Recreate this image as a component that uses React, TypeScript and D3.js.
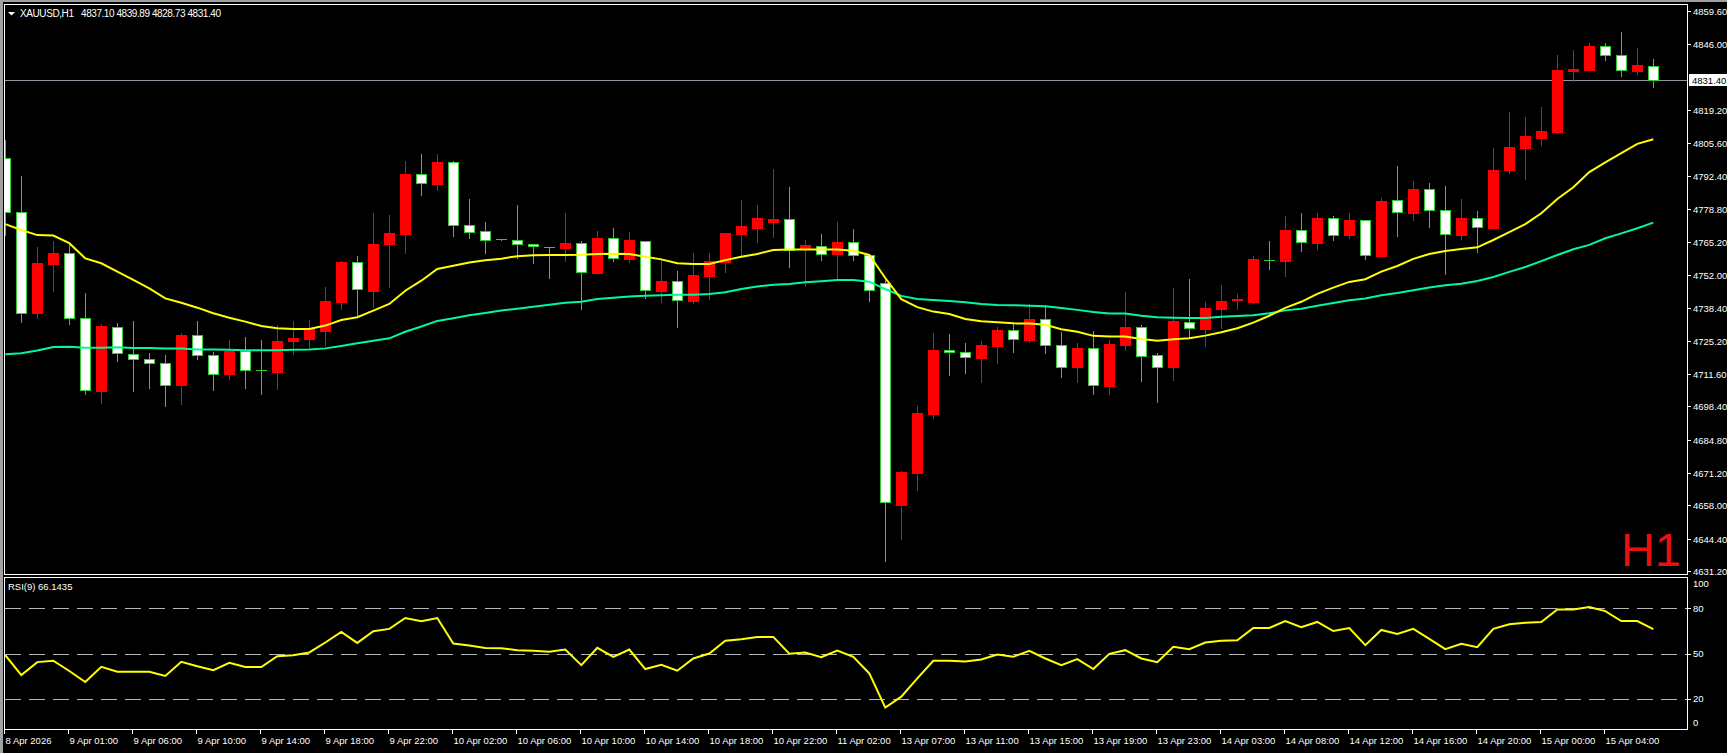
import { useEffect, useRef } from 'react';
import * as d3 from 'd3';

// XAUUSD H1, 104 bars (8 Apr 20:00 .. 15 Apr 07:00)
const openP = [
  4799.5, 4777.5, 4736.3, 4756.6, 4760.8, 4734.3, 4704.8, 4730.9, 4719.6, 4717.6,
  4715.9, 4707.1, 4727.3, 4719.2, 4711.7, 4720.9, 4713.2, 4712.5, 4725.1, 4725.8,
  4729.2, 4741.1, 4757.1, 4745.5, 4764.7, 4768.8, 4793.1, 4789.2, 4797.9, 4772.2,
  4769.8, 4766.5, 4766.1, 4764.5, 4763.5, 4763.1, 4764.9, 4752.8, 4766.9, 4758.6,
  4765.7, 4745.5, 4749.4, 4741.5, 4751.7, 4757.1, 4768.8, 4771.2, 4773.7, 4774.7,
  4762.7, 4763.9, 4760.6, 4765.3, 4760.0, 4748.7, 4658.1, 4671.3, 4695.4, 4721.2,
  4720.4, 4718.2, 4723.1, 4729.4, 4725.6, 4733.9, 4723.3, 4714.5, 4722.0, 4706.8,
  4723.5, 4730.6, 4719.2, 4714.5, 4732.9, 4730.0, 4738.2, 4741.7, 4741.1, 4757.9,
  4757.8, 4770.2, 4765.1, 4775.1, 4768.1, 4774.2, 4759.8, 4782.4, 4777.3, 4786.9,
  4778.3, 4768.4, 4775.1, 4771.2, 4794.9, 4803.9, 4807.9, 4810.3, 4835.3, 4835.7,
  4845.2, 4841.5, 4835.3, 4837.1,
];
const highP = [
  4807.0, 4792.3, 4763.4, 4765.8, 4764.2, 4744.5, 4732.0, 4732.2, 4733.2, 4720.0,
  4719.2, 4728.2, 4733.2, 4720.4, 4725.4, 4726.7, 4725.4, 4731.6, 4733.2, 4733.6,
  4747.2, 4757.7, 4759.7, 4777.2, 4776.4, 4798.4, 4801.3, 4801.3, 4798.4, 4782.9,
  4773.6, 4766.6, 4780.5, 4764.5, 4763.5, 4777.2, 4765.8, 4769.9, 4771.1, 4769.5,
  4765.7, 4758.1, 4753.6, 4760.9, 4760.9, 4769.2, 4782.7, 4780.5, 4795.2, 4787.8,
  4766.2, 4768.7, 4773.6, 4770.7, 4760.0, 4750.3, 4672.0, 4698.5, 4728.3, 4727.9,
  4724.2, 4725.0, 4730.6, 4732.8, 4740.1, 4738.8, 4728.7, 4724.2, 4729.0, 4725.3,
  4745.0, 4731.6, 4720.0, 4746.6, 4750.3, 4740.9, 4747.9, 4744.2, 4759.7, 4765.8,
  4776.0, 4777.2, 4777.2, 4776.0, 4777.2, 4774.2, 4783.3, 4796.4, 4790.3, 4789.5,
  4788.2, 4782.9, 4778.0, 4803.9, 4818.5, 4816.4, 4820.5, 4841.8, 4843.8, 4846.6,
  4846.6, 4851.0, 4844.5, 4839.89,
];
const lowP = [
  4768.3, 4732.7, 4734.5, 4745.5, 4731.8, 4703.4, 4699.9, 4717.0, 4704.8, 4705.7,
  4698.6, 4699.3, 4717.6, 4705.0, 4709.6, 4706.0, 4703.4, 4705.6, 4719.7, 4722.7,
  4723.4, 4738.2, 4734.9, 4739.0, 4747.2, 4761.0, 4784.7, 4786.6, 4768.0, 4767.2,
  4761.0, 4766.4, 4758.8, 4757.0, 4750.8, 4757.8, 4738.1, 4752.7, 4757.8, 4757.4,
  4742.7, 4741.1, 4730.9, 4740.6, 4742.3, 4753.3, 4759.4, 4765.5, 4767.6, 4755.3,
  4747.6, 4758.2, 4750.8, 4758.2, 4741.5, 4635.4, 4644.3, 4664.3, 4693.7, 4711.3,
  4712.1, 4708.4, 4716.2, 4720.7, 4724.7, 4720.3, 4710.5, 4708.4, 4703.5, 4703.5,
  4721.4, 4708.7, 4700.3, 4709.1, 4726.8, 4723.1, 4730.4, 4738.2, 4740.6, 4754.5,
  4751.7, 4761.9, 4762.4, 4766.1, 4767.2, 4758.3, 4759.8, 4768.0, 4774.5, 4771.6,
  4752.5, 4766.7, 4761.3, 4771.2, 4793.4, 4791.2, 4805.1, 4809.7, 4831.2, 4835.7,
  4839.7, 4833.2, 4834.0, 4828.73,
];
const closeP = [
  4777.5, 4736.3, 4756.7, 4760.8, 4734.3, 4705.0, 4731.1, 4720.0, 4717.6, 4715.9,
  4707.0, 4727.5, 4719.2, 4711.4, 4720.9, 4713.1, 4713.2, 4725.0, 4726.2, 4729.9,
  4741.3, 4757.2, 4746.1, 4764.6, 4769.1, 4793.1, 4789.3, 4798.0, 4772.2, 4769.4,
  4766.2, 4766.5, 4764.5, 4763.6, 4763.5, 4765.0, 4753.0, 4767.0, 4758.8, 4766.2,
  4745.7, 4749.4, 4741.6, 4751.9, 4757.5, 4769.1, 4771.9, 4775.2, 4774.8, 4762.1,
  4764.1, 4760.4, 4765.4, 4760.0, 4745.7, 4659.2, 4671.6, 4695.7, 4721.4, 4720.4,
  4718.4, 4723.3, 4729.5, 4725.7, 4734.0, 4723.3, 4714.5, 4722.2, 4707.0, 4723.8,
  4730.7, 4719.0, 4714.5, 4733.2, 4730.2, 4738.5, 4741.3, 4742.0, 4758.5, 4757.9,
  4770.3, 4765.3, 4775.2, 4768.1, 4774.4, 4760.0, 4782.1, 4777.5, 4787.0, 4778.3,
  4768.5, 4775.2, 4771.4, 4794.8, 4804.1, 4808.6, 4810.7, 4835.5, 4836.0, 4845.3,
  4841.5, 4835.4, 4837.6, 4831.4,
];

// moving averages as drawn on the chart
const maFast = [
  4772.7, 4770.3, 4768.2, 4768.0, 4764.9, 4758.7, 4756.7, 4753.3, 4749.9, 4746.5,
  4742.4, 4740.6, 4738.6, 4736.3, 4734.5, 4732.9, 4731.1, 4730.2, 4729.9, 4729.9,
  4731.3, 4733.6, 4734.7, 4737.4, 4740.1, 4745.5, 4749.6, 4754.4, 4755.7, 4757.0,
  4757.9, 4758.6, 4759.6, 4760.0, 4760.1, 4760.1, 4760.2, 4760.5, 4760.6, 4760.5,
  4759.4, 4758.3, 4756.7, 4756.4, 4756.4, 4758.0, 4759.4, 4760.5, 4762.1, 4762.3,
  4762.3, 4762.3, 4762.3, 4761.8, 4760.1, 4750.7, 4742.1, 4738.8, 4737.0, 4736.0,
  4734.0, 4733.1, 4732.7, 4732.2, 4732.1, 4731.6, 4729.8, 4728.8, 4727.1, 4726.8,
  4726.8, 4725.8, 4725.1, 4725.7, 4726.1, 4727.2, 4728.6, 4730.2, 4732.5, 4735.3,
  4738.5, 4741.0, 4744.2, 4746.8, 4749.1, 4750.2, 4753.3, 4755.6, 4758.5, 4760.5,
  4761.7, 4762.5, 4763.2, 4766.2, 4769.4, 4772.7, 4777.1, 4782.9, 4787.7, 4793.9,
  4797.9, 4801.6, 4805.4, 4807.3,
];
const maSlow = [
  4719.6, 4720.0, 4721.1, 4722.6, 4722.7, 4722.3, 4722.3, 4722.5, 4722.2, 4722.2,
  4721.9, 4721.9, 4721.5, 4721.5, 4721.4, 4721.2, 4721.2, 4721.2, 4721.4, 4721.5,
  4722.0, 4723.0, 4724.1, 4725.1, 4726.1, 4728.8, 4730.9, 4733.2, 4734.3, 4735.5,
  4736.4, 4737.4, 4738.2, 4739.0, 4739.8, 4740.6, 4741.0, 4742.1, 4742.6, 4743.2,
  4743.5, 4743.7, 4743.9, 4743.9, 4744.2, 4744.9, 4746.2, 4747.2, 4747.9, 4748.3,
  4749.0, 4749.4, 4749.9, 4749.9, 4749.2, 4746.2, 4743.4, 4742.1, 4741.7, 4741.3,
  4740.8, 4740.1, 4739.7, 4739.6, 4739.4, 4739.2, 4738.5, 4737.7, 4736.8, 4736.2,
  4736.2, 4735.3, 4734.7, 4734.5, 4734.4, 4734.4, 4734.9, 4735.2, 4735.5, 4736.3,
  4737.5, 4738.2, 4739.4, 4740.5, 4741.6, 4742.3, 4743.7, 4744.6, 4745.7, 4746.8,
  4747.7, 4748.4, 4749.5, 4751.1, 4753.2, 4755.2, 4757.6, 4760.1, 4762.4, 4764.2,
  4766.9, 4768.9, 4771.0, 4773.3,
];

const rsi = [
  48.9, 35.7, 44.3, 45.2, 38.4, 31.1, 41.2, 37.9, 37.9, 37.9,
  35.1, 44.5, 41.6, 39.0, 43.8, 41.0, 41.0, 48.2, 48.9, 50.7,
  57.3, 64.3, 57.0, 64.7, 66.3, 73.5, 71.3, 73.5, 56.6, 55.3,
  53.7, 53.5, 52.2, 51.8, 51.1, 52.6, 42.3, 53.8, 47.8, 52.6,
  39.7, 42.5, 38.6, 46.7, 50.0, 58.4, 59.5, 61.0, 61.0, 49.8,
  50.7, 47.6, 52.0, 47.8, 36.8, 14.2, 21.4, 33.5, 45.2, 45.2,
  44.7, 46.0, 49.3, 47.8, 51.8, 46.7, 42.3, 46.3, 39.7, 49.8,
  52.2, 46.7, 44.3, 54.4, 52.9, 57.3, 58.4, 58.8, 66.9, 66.9,
  71.5, 67.4, 70.9, 64.9, 66.9, 55.5, 65.6, 63.0, 66.3, 59.7,
  52.9, 56.4, 54.2, 66.3, 69.3, 70.4, 70.9, 79.2, 79.2, 80.8,
  78.1, 71.5, 71.5, 66.1,
];

const timeLabels = [
  '8 Apr 2026', '9 Apr 01:00', '9 Apr 06:00', '9 Apr 10:00', '9 Apr 14:00',
  '9 Apr 18:00', '9 Apr 22:00', '10 Apr 02:00', '10 Apr 06:00', '10 Apr 10:00',
  '10 Apr 14:00', '10 Apr 18:00', '10 Apr 22:00', '11 Apr 02:00', '13 Apr 07:00',
  '13 Apr 11:00', '13 Apr 15:00', '13 Apr 19:00', '13 Apr 23:00', '14 Apr 03:00',
  '14 Apr 08:00', '14 Apr 12:00', '14 Apr 16:00', '14 Apr 20:00', '15 Apr 00:00',
  '15 Apr 04:00',
];
const labelEvery = 4; // one time label per 4 bars

const priceTicks = [
  4859.6, 4846.0, 4819.2, 4805.6, 4792.4, 4778.8, 4765.2, 4752.0, 4738.4,
  4725.2, 4711.6, 4698.4, 4684.8, 4671.2, 4658.0, 4644.4, 4631.2,
];
const rsiLevels = [80, 50, 20];
const rsiAxisLabels = [100, 80, 50, 20, 0];

const lastPrice = 4831.4;
const headerText = '4837.10 4839.89 4828.73 4831.40';
const rsiHeader = 'RSI(9) 66.1435';

const W = 1727;
const H = 753;
const FONT = "Tahoma, 'Liberation Sans', Arial, sans-serif";
const BULL = '#ff0000';
const BEAR_EDGE = '#32cd32';

export default function App() {
  const svgRef = useRef<SVGSVGElement>(null);

  useEffect(() => {
    document.body.style.margin = '0';
    document.body.style.background = '#000';
    if (!svgRef.current) return;
    const svg = d3.select(svgRef.current);
    svg.selectAll('*').remove();

    const left = 4;
    const right = 1687;
    const top = 4;
    const mainBottom = 574;
    const rsiTop = 577;
    const rsiBottom = 729;

    const n = closeP.length;
    const x = d3.scaleLinear().domain([0, n - 1]).range([5.3, 5.3 + 16 * (n - 1)]);
    const y = d3.scaleLinear().domain([4631.2, 4859.6]).range([571, 11]);
    const yR = d3.scaleLinear().domain([0, 100]).range([729, 578]);

    svg.append('rect').attr('width', W).attr('height', H).attr('fill', '#000');
    // window chrome
    svg.append('rect').attr('x', 0).attr('y', 0).attr('width', W).attr('height', 2).attr('fill', '#a0a0a0');
    svg.append('rect').attr('x', 0).attr('y', 0).attr('width', 3).attr('height', H).attr('fill', '#a0a0a0');

    const defs = svg.append('defs');
    defs.append('clipPath').attr('id', 'clipMain')
      .append('rect').attr('x', left + 1).attr('y', top + 1)
      .attr('width', right - left - 1).attr('height', mainBottom - top - 1);
    defs.append('clipPath').attr('id', 'clipRsi')
      .append('rect').attr('x', left + 1).attr('y', rsiTop + 1)
      .attr('width', right - left - 1).attr('height', rsiBottom - rsiTop - 1);

    // frames
    svg.append('rect').attr('x', left + 0.5).attr('y', top + 0.5)
      .attr('width', right - left).attr('height', mainBottom - top)
      .attr('fill', 'none').attr('stroke', '#fff');
    svg.append('rect').attr('x', left + 0.5).attr('y', rsiTop + 0.5)
      .attr('width', right - left).attr('height', rsiBottom - rsiTop)
      .attr('fill', 'none').attr('stroke', '#fff');

    const main = svg.append('g').attr('clip-path', 'url(#clipMain)')
      .attr('shape-rendering', 'crispEdges');

    // bid line
    const yLast = Math.round(y(lastPrice)) + 0.5;
    main.append('line').attr('x1', left).attr('x2', right)
      .attr('y1', yLast).attr('y2', yLast).attr('stroke', '#8c96a0');

    // candles
    const idx = d3.range(n);
    idx.forEach((i) => {
      const o = openP[i];
      const c = closeP[i];
      const bull = c > o;
      const cx = Math.round(x(i));
      const col = bull ? BULL : BEAR_EDGE;
      main.append('line')
        .attr('x1', cx + 0.5).attr('x2', cx + 0.5)
        .attr('y1', Math.round(y(highP[i]))).attr('y2', Math.round(y(lowP[i])) + 1)
        .attr('stroke', col);
      const bt = Math.round(y(Math.max(o, c)));
      const bb = Math.round(y(Math.min(o, c)));
      if (bb - bt < 1) {
        main.append('line')
          .attr('x1', cx - 5).attr('x2', cx + 6)
          .attr('y1', bt + 0.5).attr('y2', bt + 0.5)
          .attr('stroke', col);
      } else if (bull) {
        main.append('rect')
          .attr('x', cx - 5).attr('y', bt)
          .attr('width', 11).attr('height', bb - bt + 1)
          .attr('fill', BULL);
      } else {
        main.append('rect')
          .attr('x', cx - 4.5).attr('y', bt + 0.5)
          .attr('width', 10).attr('height', bb - bt)
          .attr('fill', '#fff').attr('stroke', BEAR_EDGE);
      }
    });

    // moving averages
    const maLine = d3.line<number>().x((_, i) => x(i)).y((d) => y(d));
    const lines = svg.append('g').attr('clip-path', 'url(#clipMain)');
    lines.append('path').attr('d', maLine(maSlow))
      .attr('fill', 'none').attr('stroke', '#00fa9a').attr('stroke-width', 2);
    lines.append('path').attr('d', maLine(maFast))
      .attr('fill', 'none').attr('stroke', '#ffff00').attr('stroke-width', 2);

    // header
    svg.append('path').attr('d', 'M8,12 L15,12 L11.5,15.5 Z').attr('fill', '#fff');
    svg.append('text').attr('x', 20).attr('y', 16.5)
      .attr('fill', '#fff').attr('font-family', FONT).attr('font-size', 10)
      .attr('textLength', 54).attr('lengthAdjust', 'spacing')
      .text('XAUUSD,H1');
    svg.append('text').attr('x', 81).attr('y', 16.5)
      .attr('fill', '#fff').attr('font-family', FONT).attr('font-size', 10)
      .attr('textLength', 140).attr('lengthAdjust', 'spacing')
      .text(headerText);

    // H1 watermark
    svg.append('text').attr('x', 1681).attr('y', 566)
      .attr('text-anchor', 'end').attr('fill', '#e81010')
      .attr('font-family', "'Liberation Sans', Arial, sans-serif").attr('font-size', 47)
      .text('H1');

    // price axis
    const pa = svg.append('g');
    priceTicks.forEach((p) => {
      const ty = Math.round(y(p)) + 0.5;
      pa.append('line').attr('x1', right + 1).attr('x2', right + 4)
        .attr('y1', ty).attr('y2', ty).attr('stroke', '#fff')
        .attr('shape-rendering', 'crispEdges');
      pa.append('text').attr('x', 1693).attr('y', ty).attr('dy', '0.35em')
        .attr('fill', '#fff').attr('font-family', FONT).attr('font-size', 9.5)
        .text(p.toFixed(2));
    });
    pa.append('rect').attr('x', 1689).attr('y', yLast - 6.5)
      .attr('width', 38).attr('height', 12).attr('fill', '#fff');
    pa.append('text').attr('x', 1692).attr('y', yLast).attr('dy', '0.35em')
      .attr('fill', '#000').attr('font-family', FONT).attr('font-size', 9.5)
      .text(lastPrice.toFixed(2));

    // RSI panel
    const rp = svg.append('g');
    rsiLevels.forEach((lv) => {
      const ly = Math.round(yR(lv)) + 0.5;
      rp.append('line').attr('x1', left + 1).attr('x2', right)
        .attr('y1', ly).attr('y2', ly)
        .attr('stroke', '#b4b4b4').attr('stroke-dasharray', '16,8')
        .attr('shape-rendering', 'crispEdges');
      rp.append('line').attr('x1', right + 1).attr('x2', right + 4)
        .attr('y1', ly).attr('y2', ly).attr('stroke', '#fff')
        .attr('shape-rendering', 'crispEdges');
    });
    const rsiLine = d3.line<number>().x((_, i) => x(i)).y((d) => yR(d));
    rp.append('path').attr('clip-path', 'url(#clipRsi)').attr('d', rsiLine(rsi))
      .attr('fill', 'none').attr('stroke', '#ffff00').attr('stroke-width', 2);
    rp.append('text').attr('x', 8).attr('y', 589.5)
      .attr('fill', '#fff').attr('font-family', FONT).attr('font-size', 9.5)
      .text(rsiHeader);
    rsiAxisLabels.forEach((lv) => {
      let ly = yR(lv);
      if (lv === 100) ly += 6;
      if (lv === 0) ly -= 6;
      rp.append('text').attr('x', 1693).attr('y', ly).attr('dy', '0.35em')
        .attr('fill', '#fff').attr('font-family', FONT).attr('font-size', 9.5)
        .text(String(lv));
    });

    // time axis
    const ta = svg.append('g');
    timeLabels.forEach((lab, j) => {
      const tx = Math.round(x(j * labelEvery)) - 0.5;
      ta.append('line').attr('x1', tx).attr('x2', tx)
        .attr('y1', rsiBottom + 1).attr('y2', rsiBottom + 5)
        .attr('stroke', '#fff').attr('shape-rendering', 'crispEdges');
      ta.append('text').attr('x', tx + 1).attr('y', 744)
        .attr('fill', '#fff').attr('font-family', FONT).attr('font-size', 9.5)
        .text(lab);
    });
  }, []);

  return <svg ref={svgRef} width={W} height={H} style={{ display: 'block', background: '#000' }} />;
}
